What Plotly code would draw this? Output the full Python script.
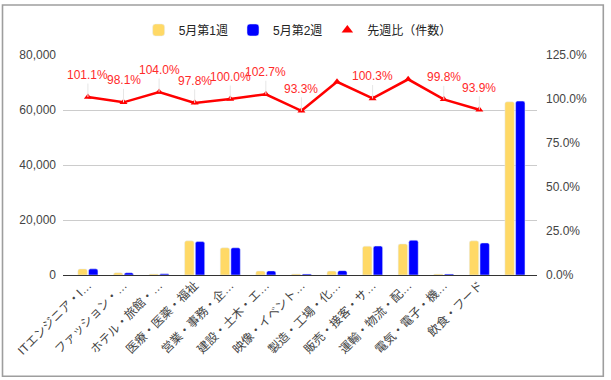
import plotly.graph_objects as go

categories = [
    "ITエンジニア・I…", "ファッション・…", "ホテル・旅館・…", "医療・医薬・福祉",
    "営業・事務・企…", "建設・土木・エ…", "映像・イベント…", "製造・工場・化…",
    "販売・接客・サ…", "運輸・物流・配…", "電気・電子・機…", "飲食・フード", "",
]
week1 = [2200, 850, 400, 12420, 9900, 1450, 400, 1450, 10500, 11300, 350, 12420, 62980]
week2 = [2230, 830, 420, 12150, 9900, 1490, 375, 1590, 10530, 12650, 350, 11660, 63240]
ratio = [101.1, 98.1, 104.0, 97.8, 100.0, 102.7, 93.3, 109.8, 100.3, 111.2, 99.8, 93.9, None]
ratio_labels = ["101.1%", "98.1%", "104.0%", "97.8%", "100.0%", "102.7%", "93.3%", None,
                "100.3%", None, "99.8%", "93.9%", None]
left_ticks = [0, 20000, 40000, 60000, 80000]
right_ticks = [0, 25, 50, 75, 100, 125]
right_tick_labels = ["0.0%", "25.0%", "50.0%", "75.0%", "100.0%", "125.0%"]

FONT = "Arial, 'Liberation Sans', 'Noto Sans CJK JP', sans-serif"
xpos = list(range(len(categories)))

fig = go.Figure()
fig.add_trace(go.Bar(x=xpos, y=week1, name="5月第1週", marker_color="#FFD966"))
fig.add_trace(go.Bar(x=xpos, y=week2, name="5月第2週", marker_color="#0000FF"))
fig.add_trace(go.Scatter(
    x=xpos, y=ratio, yaxis="y2", mode="lines+markers", showlegend=False,
    line=dict(color="#FF0000", width=2.5),
    marker=dict(symbol="triangle-up", size=7, color="#FF0000"),
))
fig.add_trace(go.Scatter(
    x=[None], y=[None], yaxis="y2", mode="markers", name="先週比（件数）",
    marker=dict(symbol="triangle-up", size=10, color="#FF0000"),
))

annotations = []
for xi, v, lab in zip(xpos, ratio, ratio_labels):
    if lab is None or v is None:
        continue
    annotations.append(dict(
        x=xi, y=v, xref="x", yref="y2", text=lab, showarrow=True,
        arrowhead=0, arrowwidth=1, arrowcolor="#E6E6E6", ax=0, ay=-22,
        standoff=0, font=dict(color="#FF2A2A", size=12, family=FONT),
    ))

fig.update_layout(
    width=611, height=380,
    margin=dict(l=63, r=74, t=55, b=105, autoexpand=False),
    paper_bgcolor="white", plot_bgcolor="white",
    font=dict(family=FONT, size=12, color="#444"),
    barmode="group", bargap=0.4, bargroupgap=0.12, barcornerradius=2,
    showlegend=True,
    legend=dict(orientation="h", x=0.495, xanchor="center",
                yref="container", y=1 - 30 / 380, yanchor="middle",
                font=dict(size=12, color="#222"), itemwidth=30,
                bgcolor="rgba(0,0,0,0)"),
    xaxis=dict(range=[-0.7, 12.62], tickmode="array", tickvals=xpos, ticktext=categories,
               tickangle=-45, showgrid=False, zeroline=False, showline=False,
               ticks="", automargin=False, tickfont=dict(size=12, color="#444")),
    yaxis=dict(range=[0, 80000], tickvals=left_ticks, tickformat=",",
               showgrid=True, gridcolor="#CCCCCC", gridwidth=1,
               zeroline=True, zerolinecolor="#333333", zerolinewidth=1,
               ticks="", ticklabelstandoff=6, automargin=False,
               tickfont=dict(size=12, color="#444")),
    yaxis2=dict(range=[0, 125], tickmode="array", tickvals=right_ticks,
                ticktext=right_tick_labels,
                overlaying="y", side="right", showgrid=False, zeroline=False,
                ticks="", ticklabelstandoff=8, automargin=False,
                tickfont=dict(size=12, color="#444")),
    annotations=annotations,
    shapes=[dict(type="rect", xref="paper", yref="paper",
                 x0=(2.5 - 63) / 474, x1=(603.3 - 63) / 474,
                 y0=(275 - 376.3) / 220, y1=(275 - 5) / 220,
                 line=dict(color="#9E9E9E", width=1.6), fillcolor="rgba(0,0,0,0)",
                 layer="below")],
)

fig.write_html(
    "out.html",
    config={"displayModeBar": False},
    post_script="document.body.style.margin='0px';document.body.style.overflow='hidden';",
)
